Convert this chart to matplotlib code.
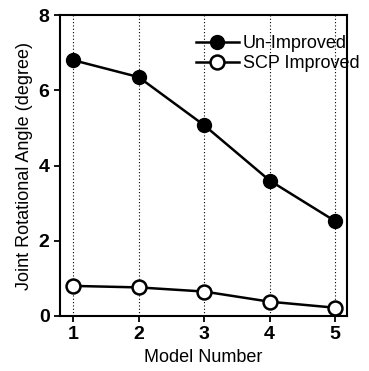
import matplotlib.pyplot as plt

# data
model_number = [1, 2, 3, 4, 5]
un_improved = [6.80, 6.35, 5.07, 3.60, 2.52]
scp_improved = [0.80, 0.76, 0.65, 0.38, 0.22]

plt.rcParams["font.family"] = ["Liberation Sans", "DejaVu Sans"]

fig = plt.figure(figsize=(3.69, 3.71), dpi=100)
ax = fig.add_axes([60 / 369, 1 - 316 / 371, 287 / 369, 301 / 371])

for x in model_number:
    ax.axvline(x, color="black", linestyle=(0, (1, 2)), linewidth=0.8, zorder=0)

ax.plot(model_number, un_improved, color="black", linewidth=1.8,
        marker="o", markersize=10, markerfacecolor="black",
        markeredgecolor="black", label="Un-Improved")
ax.plot(model_number, scp_improved, color="black", linewidth=1.8,
        marker="o", markersize=10, markerfacecolor="white",
        markeredgecolor="black", markeredgewidth=1.8, label="SCP Improved")

ax.set_xlim(0.8, 5.18)
ax.set_ylim(0, 8)
ax.set_xticks(model_number)
ax.set_yticks([0, 2, 4, 6, 8])
ax.tick_params(labelsize=14, width=1.3, length=4)
for lab in ax.get_xticklabels() + ax.get_yticklabels():
    lab.set_fontweight("bold")
for s in ax.spines.values():
    s.set_linewidth(1.5)

ax.set_xlabel("Model Number", fontsize=13)
ax.set_ylabel("Joint Rotational Angle (degree)", fontsize=13)

leg = ax.legend(loc="upper right", bbox_to_anchor=(1.08, 0.97), frameon=False,
                fontsize=13, handlelength=2.4, handletextpad=0.2,
                labelspacing=0.2, borderaxespad=0.2)

fig.savefig("out.png", dpi=100)
